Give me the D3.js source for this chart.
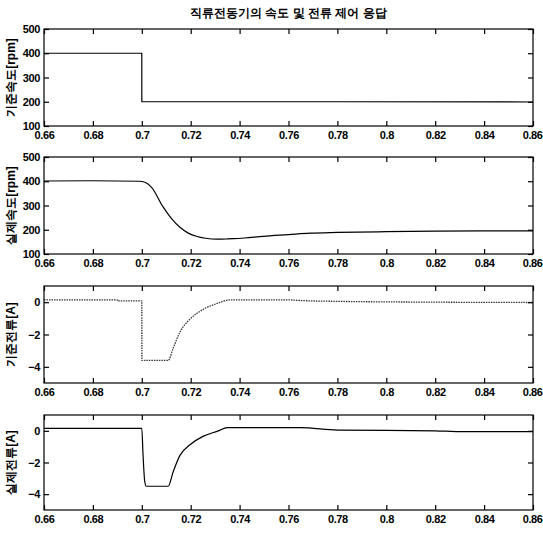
<!DOCTYPE html>
<html>
<head>
<meta charset="utf-8">
<script src="https://cdn.jsdelivr.net/npm/d3@7"></script>
<style>
  body { margin: 0; background: #fff; }
  text { font-family: 'Liberation Sans', Arial, sans-serif; }
</style>
</head>
<body>
<div id="chart"></div>
<script>
const title = '직류전동기의 속도 및 전류 제어 응답'
const xTicks = [0.66, 0.68, 0.7, 0.72, 0.74, 0.76, 0.78, 0.8, 0.82, 0.84, 0.86]
const speedTicks = [100, 200, 300, 400, 500]
const currentTicks = [0, -2, -4]

// 기준속도 (reference speed)
const refSpeedT = [0.66, 0.7, 0.70001, 0.78, 0.86]
const refSpeedV = [400, 400, 200, 200, 199]

// 실제속도 (actual speed)
const actSpeedT = [0.66, 0.68, 0.699, 0.7015, 0.704, 0.7087, 0.712, 0.7156, 0.719, 0.7226, 0.726, 0.7308, 0.735, 0.7374, 0.742, 0.7496, 0.76, 0.7688, 0.78, 0.8, 0.82, 0.84, 0.86]
const actSpeedV = [401, 402, 400, 395, 375, 294, 248, 210, 186, 172, 165, 161, 162, 163, 166, 173, 180, 186, 189, 192, 194, 195, 195]

// 기준전류 (reference current)
const refCurT = [0.66, 0.69, 0.6901, 0.7, 0.70005, 0.7108, 0.7128, 0.7156, 0.7197, 0.7251, 0.7308, 0.736, 0.76, 0.7651, 0.78, 0.82, 0.86]
const refCurV = [0.14, 0.14, 0.08, 0.08, -3.6, -3.6, -2.86, -1.85, -1.05, -0.45, -0.08, 0.14, 0.14, 0.1, 0.05, 0.0, -0.02]

// 실제전류 (actual current)
const actCurT = [0.66, 0.7, 0.7005, 0.7012, 0.7018, 0.7108, 0.7128, 0.7156, 0.7197, 0.725, 0.731, 0.735, 0.765, 0.78, 0.82, 0.83, 0.86]
const actCurV = [0.16, 0.16, -1.5, -3.2, -3.5, -3.5, -2.6, -1.55, -0.88, -0.35, -0.02, 0.2, 0.2, 0.05, 0.0, -0.05, -0.05]

const panels = [
  { label: '기준속도[rpm]', t: refSpeedT, v: refSpeedV, domain: [100, 500], ticks: speedTicks, top: 29, bottom: 126, dash: null, curve: d3.curveLinear },
  { label: '실제속도[rpm]', t: actSpeedT, v: actSpeedV, domain: [100, 500], ticks: speedTicks, top: 157, bottom: 254, dash: null, curve: d3.curveMonotoneX },
  { label: '기준전류[A]', t: refCurT, v: refCurV, domain: [-5, 1], ticks: currentTicks, top: 286, bottom: 383, dash: '1.5,1', curve: d3.curveMonotoneX },
  { label: '실제전류[A]', t: actCurT, v: actCurV, domain: [-5, 1], ticks: currentTicks, top: 415, bottom: 510, dash: null, curve: d3.curveMonotoneX }
]

const W = 543, H = 533
const left = 44, right = 533

const svg = d3.select('#chart')
  .append('svg')
  .attr('width', W)
  .attr('height', H)

svg.append('text')
  .attr('x', (left + right) / 2)
  .attr('y', 17)
  .attr('text-anchor', 'middle')
  .attr('font-size', 12)
  .attr('font-weight', 'bold')
  .attr('font-family', "'Noto Sans CJK KR', sans-serif")
  .text(title)

const x = d3.scaleLinear().domain([0.66, 0.86]).range([left, right])
const fmt = d => String(+d.toFixed(2))

panels.forEach(function(p) {
  const y = d3.scaleLinear().domain(p.domain).range([p.bottom, p.top])
  const g = svg.append('g')

  // line
  const pts = p.t.map((t, i) => [t, p.v[i]])
  g.append('path')
    .datum(pts)
    .attr('fill', 'none')
    .attr('stroke', p.dash ? '#333' : '#000')
    .attr('stroke-width', p.dash ? 1.3 : 1.2)
    .attr('stroke-dasharray', p.dash)
    .attr('d', d3.line().curve(p.curve).x(d => x(d[0])).y(d => y(d[1])))

  // inward ticks on all four sides
  g.append('g')
    .attr('transform', 'translate(0,' + p.bottom + ')')
    .call(d3.axisBottom(x).tickValues(xTicks).tickFormat(fmt).tickSizeInner(-5).tickSizeOuter(0).tickPadding(5))
  g.append('g')
    .attr('transform', 'translate(0,' + p.top + ')')
    .call(d3.axisTop(x).tickValues(xTicks).tickFormat('').tickSizeInner(-5).tickSizeOuter(0))
  g.append('g')
    .attr('transform', 'translate(' + left + ',0)')
    .call(d3.axisLeft(y).tickValues(p.ticks).tickFormat(d3.format('d')).tickSizeInner(-5).tickSizeOuter(0).tickPadding(4))
  g.append('g')
    .attr('transform', 'translate(' + right + ',0)')
    .call(d3.axisRight(y).tickValues(p.ticks).tickFormat('').tickSizeInner(-5).tickSizeOuter(0))

  g.selectAll('.domain').remove()
  g.selectAll('.tick line').attr('stroke', '#000').attr('stroke-width', 1.2)
  g.selectAll('.tick text')
    .attr('fill', '#000')
    .attr('font-size', 11)
    .attr('font-weight', 'bold')
    .attr('letter-spacing', -0.4)
    .attr('font-family', "'Liberation Sans', Arial, sans-serif")

  // keep the last x label inside the window
  g.selectAll('.tick text')
    .filter(d => d === 0.86)
    .attr('text-anchor', 'end')
    .attr('dx', 9)

  // box
  g.append('rect')
    .attr('x', left)
    .attr('y', p.top)
    .attr('width', right - left)
    .attr('height', p.bottom - p.top)
    .attr('fill', 'none')
    .attr('stroke', '#000')
    .attr('stroke-width', 1.2)

  // y label
  g.append('text')
    .attr('transform', 'translate(15,' + (p.top + p.bottom) / 2 + ') rotate(-90)')
    .attr('text-anchor', 'middle')
    .attr('font-size', 12)
    .attr('font-weight', 'bold')
    .attr('font-family', "'Noto Sans CJK KR', sans-serif")
    .text(p.label)
})
</script>
</body>
</html>
